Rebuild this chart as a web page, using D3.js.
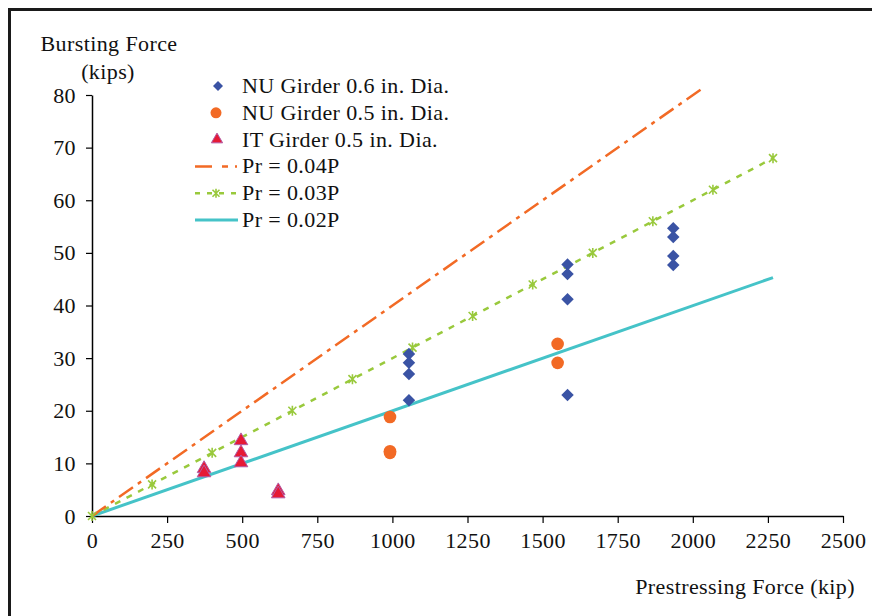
<!DOCTYPE html>
<html>
<head>
<meta charset="utf-8">
<script src="https://cdn.jsdelivr.net/npm/d3@7"></script>
<style>
  body { margin: 0; background: #fff; }
  text { font-family: "Liberation Serif", "Times New Roman", serif; font-size: 22px; fill: #111; letter-spacing: 0.4px; }
</style>
</head>
<body>
<div id="chart"></div>
<script>
var svgWidth = 872;
var svgHeight = 616;

// data
var xTicks = [0, 250, 500, 750, 1000, 1250, 1500, 1750, 2000, 2250, 2500];
var yTicks = [0, 10, 20, 30, 40, 50, 60, 70, 80];

var nu06X = [1055, 1055, 1055, 1055, 1583, 1583, 1583, 1583, 1935, 1935, 1935, 1935];
var nu06Y = [30.8, 29.1, 27.0, 22.0, 47.8, 46.0, 41.2, 23.0, 54.7, 53.0, 49.4, 47.7];

var nu05X = [992, 992, 992, 1550, 1550];
var nu05Y = [18.8, 12.3, 12.0, 32.7, 29.1];

var it05X = [373, 373, 496, 496, 496, 620, 620];
var it05Y = [9.0, 8.2, 14.3, 12.0, 10.1, 4.8, 4.2];

var pr04X = [0, 2033];
var pr04Y = [0, 81.3];
var pr03X = [0, 200, 400, 667, 867, 1067, 1267, 1467, 1667, 1867, 2067, 2267];
var pr03Y = [0, 6, 12, 20, 26, 32, 38, 44, 50, 56, 62, 68];
var pr02X = [0, 2267];
var pr02Y = [0, 45.3];

var legendLabels = ["NU Girder 0.6 in. Dia.", "NU Girder 0.5 in. Dia.", "IT Girder 0.5 in. Dia.",
  "Pr = 0.04P", "Pr = 0.03P", "Pr = 0.02P"];

// colours
var blue = "#3a53a4", orange = "#f26a25", red = "#e61a35", purple = "#b35ba5",
    green = "#99c93c", teal = "#45c3c8";

var svg = d3.select("#chart").append("svg")
  .attr("width", svgWidth)
  .attr("height", svgHeight);

// outer frame
svg.append("rect")
  .attr("x", 9.5).attr("y", 9.5)
  .attr("width", 900).attr("height", 700)
  .attr("fill", "none").attr("stroke", "#1a1a1a").attr("stroke-width", 3);

var x = d3.scaleLinear().domain([0, 2500]).range([92, 843]);
var y = d3.scaleLinear().domain([0, 80]).range([516, 95]);

// axes
var xAxis = svg.append("g")
  .attr("transform", "translate(0,516)")
  .call(d3.axisBottom(x).tickValues(xTicks).tickFormat(d3.format("d"))
    .tickSize(7).tickPadding(12).tickSizeOuter(0));
var yAxis = svg.append("g")
  .attr("transform", "translate(92,0)")
  .call(d3.axisLeft(y).tickValues(yTicks).tickFormat(d3.format("d"))
    .tickSize(6).tickPadding(10).tickSizeOuter(0));

[xAxis, yAxis].forEach(function(a) {
  a.select(".domain").attr("stroke", "#000").attr("stroke-width", 1.5);
  a.selectAll(".tick line").attr("stroke", "#000").attr("stroke-width", 1.2);
  a.selectAll("text").attr("font-size", null).attr("font-family", null).attr("fill", "#111");
});
xAxis.selectAll("text").attr("dy", "0.6em");

// axis titles
svg.append("text").attr("x", 109).attr("y", 51).attr("text-anchor", "middle").text("Bursting Force");
svg.append("text").attr("x", 108).attr("y", 79).attr("text-anchor", "middle").text("(kips)");
svg.append("text").attr("x", 855).attr("y", 594).attr("text-anchor", "end").text("Prestressing Force (kip)");

// lines
function lineData(xs, ys) { return xs.map(function(v, i) { return [v, ys[i]]; }); }
var line = d3.line().x(function(d) { return x(d[0]); }).y(function(d) { return y(d[1]); });

svg.append("path").datum(lineData(pr02X, pr02Y))
  .attr("d", line).attr("fill", "none").attr("stroke", teal).attr("stroke-width", 3);

svg.append("path").datum(lineData(pr03X, pr03Y))
  .attr("d", line).attr("fill", "none").attr("stroke", green).attr("stroke-width", 2.5)
  .attr("stroke-dasharray", "6,7");

svg.append("path").datum(lineData(pr04X, pr04Y))
  .attr("d", line).attr("fill", "none").attr("stroke", orange).attr("stroke-width", 2.5)
  .attr("stroke-dasharray", "17,6,4,6");

// star marker (x with vertical stroke)
function starPath(s) {
  return "M" + (-s) + "," + (-s) + "L" + s + "," + s +
    "M" + (-s) + "," + s + "L" + s + "," + (-s) +
    "M0," + (-s - 1) + "L0," + (s + 1);
}

svg.selectAll(".star").data(lineData(pr03X, pr03Y)).enter().append("path")
  .attr("class", "star")
  .attr("transform", function(d) { return "translate(" + x(d[0]) + "," + y(d[1]) + ")"; })
  .attr("d", starPath(4))
  .attr("stroke", green).attr("stroke-width", 1.6).attr("fill", "none");

// scatter markers
var diamond = d3.symbol().type(d3.symbolSquare).size(78);
var tri = d3.symbol().type(d3.symbolTriangle).size(80);

svg.selectAll(".nu05").data(lineData(nu05X, nu05Y)).enter().append("circle")
  .attr("class", "nu05")
  .attr("cx", function(d) { return x(d[0]); })
  .attr("cy", function(d) { return y(d[1]); })
  .attr("r", 6.3).attr("fill", orange);

svg.selectAll(".nu06").data(lineData(nu06X, nu06Y)).enter().append("path")
  .attr("class", "nu06")
  .attr("transform", function(d) { return "translate(" + x(d[0]) + "," + y(d[1]) + ") rotate(45)"; })
  .attr("d", diamond).attr("fill", blue);

svg.selectAll(".it05").data(lineData(it05X, it05Y)).enter().append("path")
  .attr("class", "it05")
  .attr("transform", function(d) { return "translate(" + x(d[0]) + "," + y(d[1]) + ")"; })
  .attr("d", tri).attr("fill", red).attr("stroke", purple).attr("stroke-width", 1);

// legend
var legend = svg.append("g");
var rowY = function(i) { return 86 + i * 26.8; };

legend.append("path").attr("transform", "translate(218," + rowY(0) + ") rotate(45)")
  .attr("d", d3.symbol().type(d3.symbolSquare).size(50)).attr("fill", blue);
legend.append("circle").attr("cx", 216).attr("cy", rowY(1)).attr("r", 5.5).attr("fill", orange);
legend.append("path").attr("transform", "translate(217," + rowY(2) + ")")
  .attr("d", d3.symbol().type(d3.symbolTriangle).size(55))
  .attr("fill", red).attr("stroke", purple).attr("stroke-width", 1);

legend.append("line").attr("x1", 195).attr("x2", 238).attr("y1", rowY(3)).attr("y2", rowY(3))
  .attr("stroke", orange).attr("stroke-width", 2.5).attr("stroke-dasharray", "17,10,6,7,2,10");
legend.append("line").attr("x1", 195).attr("x2", 238).attr("y1", rowY(4)).attr("y2", rowY(4))
  .attr("stroke", green).attr("stroke-width", 2.5).attr("stroke-dasharray", "5,7");
legend.append("path").attr("transform", "translate(216," + rowY(4) + ")")
  .attr("d", starPath(3.5)).attr("stroke", green).attr("stroke-width", 1.6).attr("fill", "none");
legend.append("line").attr("x1", 195).attr("x2", 238).attr("y1", rowY(5)).attr("y2", rowY(5))
  .attr("stroke", teal).attr("stroke-width", 3);

legend.selectAll(".lt").data(legendLabels).enter().append("text")
  .attr("class", "lt")
  .attr("x", 242)
  .attr("y", function(d, i) { return rowY(i) + 7; })
  .text(function(d) { return d; });
</script>
</body>
</html>
